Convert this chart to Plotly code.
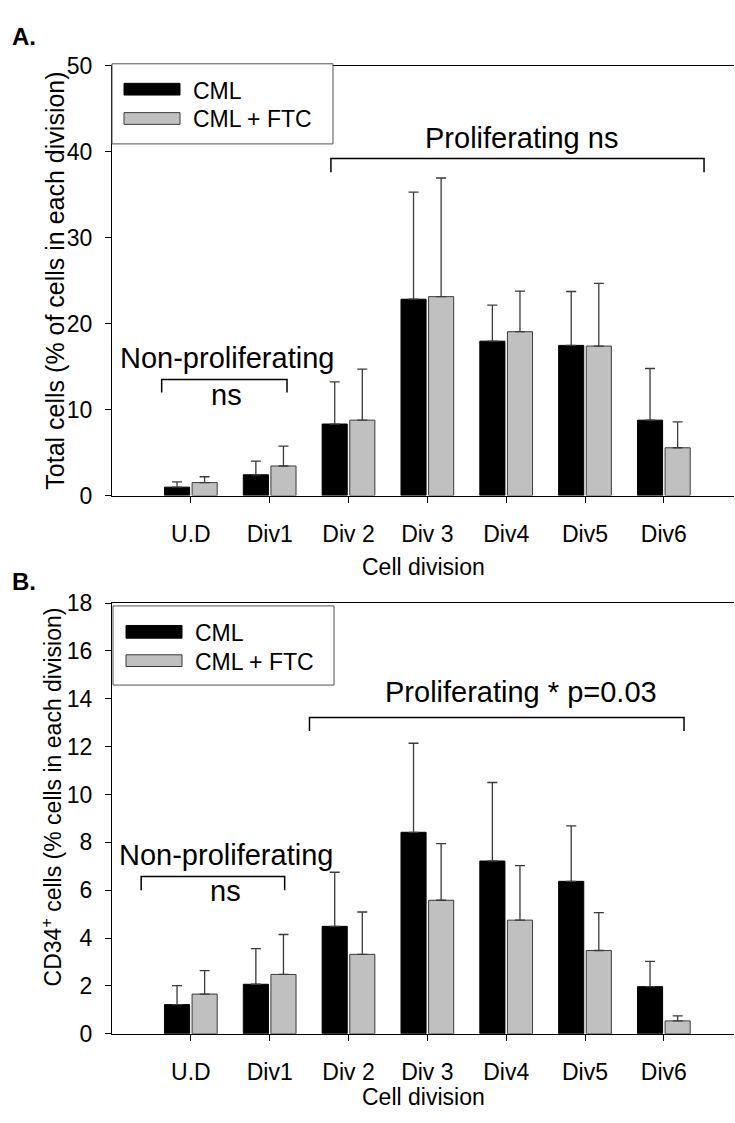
import plotly.graph_objects as go

# ---- data ----
divisions = ["U.D", "Div1", "Div 2", "Div 3", "Div4", "Div5", "Div6"]

# Panel A: total cells (% of cells in each division), mean and SD
total_cml = [0.98, 2.42, 8.32, 22.84, 17.96, 17.47, 8.77]
total_cml_sd = [0.61, 1.58, 4.91, 12.46, 4.20, 6.27, 6.01]
total_ftc = [1.51, 3.44, 8.77, 23.14, 19.06, 17.39, 5.56]
total_ftc_sd = [0.68, 2.31, 5.94, 13.80, 4.72, 7.30, 3.02]

# Panel B: CD34+ cells (% cells in each division), mean and SD
cd34_cml = [1.22, 2.07, 4.49, 8.42, 7.22, 6.37, 1.97]
cd34_cml_sd = [0.79, 1.49, 2.26, 3.72, 3.28, 2.32, 1.06]
cd34_ftc = [1.66, 2.48, 3.32, 5.58, 4.75, 3.48, 0.54]
cd34_ftc_sd = [0.98, 1.67, 1.77, 2.37, 2.28, 1.58, 0.21]

W, H = 735, 1123
FONT = "Liberation Sans, Arial, sans-serif"
BLACK = "#000000"
GREY = "#c0c0c0"
EDGE = "#3a3a3a"


def px(xp):
    return xp / W


def py(yp):
    return 1 - yp / H


fig = go.Figure()


def add_pair(cml, cml_sd, ftc, ftc_sd, xa, ya):
    fig.add_trace(go.Bar(
        x=divisions, y=cml, name="CML", xaxis=xa, yaxis=ya, showlegend=False,
        offsetgroup="cml",
        marker=dict(color=BLACK, line=dict(color=BLACK, width=1)),
        error_y=dict(type="data", symmetric=False, array=cml_sd,
                     arrayminus=[0] * len(cml_sd), color=EDGE,
                     thickness=1.3, width=5),
    ))
    fig.add_trace(go.Bar(
        x=divisions, y=ftc, name="CML + FTC", xaxis=xa, yaxis=ya, showlegend=False,
        offsetgroup="ftc",
        marker=dict(color=GREY, line=dict(color=EDGE, width=1)),
        error_y=dict(type="data", symmetric=False, array=ftc_sd,
                     arrayminus=[0] * len(ftc_sd), color=EDGE,
                     thickness=1.3, width=5),
    ))


add_pair(total_cml, total_cml_sd, total_ftc, total_ftc_sd, "x", "y")
add_pair(cd34_cml, cd34_cml_sd, cd34_ftc, cd34_ftc_sd, "x2", "y2")

xdom = [px(112), px(734)]
xrange = [-1.0, 6.89]

common_x = dict(
    type="category", range=xrange, domain=xdom, showline=True, linecolor=BLACK,
    linewidth=1, mirror=True, ticks="outside", ticklen=6, tickcolor=BLACK,
    showgrid=False, zeroline=False, ticklabelstandoff=12,
    tickfont=dict(family=FONT, size=23, color=BLACK),
)
common_y = dict(
    showline=True, linecolor=BLACK, linewidth=1, ticks="outside", ticklen=6,
    tickcolor=BLACK, showgrid=False, zeroline=False, ticklabelstandoff=8,
    tickfont=dict(family=FONT, size=23, color=BLACK),
)

fig.update_layout(
    width=W, height=H, margin=dict(l=0, r=0, t=0, b=0),
    paper_bgcolor="white", plot_bgcolor="white",
    barmode="group", bargap=0.30, bargroupgap=0.09,
    showlegend=False,
    xaxis=dict(**common_x, anchor="y"),
    yaxis=dict(**common_y, anchor="x", domain=[py(494), py(54)],
               range=[0, 50], dtick=10),
    xaxis2=dict(**common_x, anchor="y2"),
    yaxis2=dict(**common_y, anchor="x2", domain=[py(1045), py(604)],
                range=[0, 18], dtick=2),
)

shapes = []
annotations = []


def text(x, y, s, size, xref="paper", yref="paper", xanchor="center",
         yanchor="middle", angle=0, bold=False):
    annotations.append(dict(
        x=x, y=y, xref=xref, yref=yref, text=("<b>%s</b>" % s) if bold else s,
        showarrow=False, xanchor=xanchor, yanchor=yanchor, textangle=angle,
        font=dict(family=FONT, size=size, color=BLACK),
    ))


def bracket(x0, x1, ytop, ybot, xref, yref):
    shapes.append(dict(
        type="path", xref=xref, yref=yref,
        path="M %f,%f L %f,%f L %f,%f L %f,%f" % (x0, ybot, x0, ytop, x1, ytop, x1, ybot),
        line=dict(color=BLACK, width=1.5),
    ))


def legend_box(x0, y0, x1, y1, sw_x0, sw_x1, rows, text_x):
    shapes.append(dict(type="rect", xref="paper", yref="paper", layer="above",
                       x0=px(x0), x1=px(x1), y0=py(y1), y1=py(y0),
                       fillcolor="white", line=dict(color="#555555", width=1)))
    for (ya, yb, fill, edge, label, ty) in rows:
        shapes.append(dict(type="rect", xref="paper", yref="paper", layer="above",
                           x0=px(sw_x0), x1=px(sw_x1), y0=py(yb), y1=py(ya),
                           fillcolor=fill, line=dict(color=edge, width=1)))
        text(px(text_x), py(ty), label, 23, xanchor="left")


# Panel A annotations
text(px(10), py(24), "A.", 24, xanchor="left", bold=True)
legend_box(112, 52, 333, 134, 124, 180,
           [(72, 84, BLACK, BLACK, "CML", 80),
            (102, 114, GREY, EDGE, "CML + FTC", 109)], 191)
bracket(1.777, 6.51, 39.2, 37.6, "x", "y")
text(4.2, 41.6, "Proliferating ns", 29, xref="x", yref="y")
bracket(-0.37, 1.22, 13.5, 12.0, "x", "y")
text(0.46, 16.0, "Non-proliferating", 29, xref="x", yref="y")
text(0.45, 11.7, "ns", 29, xref="x", yref="y")
text(px(423), py(567), "Cell division", 23)
text(px(55), py(274), "Total cells (% of cells in each division)", 25, angle=-90)

# Panel B annotations
text(px(10), py(582), "B.", 24, xanchor="left", bold=True)
legend_box(113, 607, 334, 688, 126, 182,
           [(627, 640, BLACK, BLACK, "CML", 635),
            (657, 669, GREY, EDGE, "CML + FTC", 664)], 193)
bracket(1.505, 6.256, 13.22, 12.65, "x2", "y2")
text(4.19, 14.3, "Proliferating * p=0.03", 29, xref="x2", yref="y2")
bracket(-0.63, 1.19, 6.57, 6.0, "x2", "y2")
text(0.44, 7.47, "Non-proliferating", 29, xref="x2", yref="y2")
text(0.435, 5.95, "ns", 29, xref="x2", yref="y2")
text(px(423), py(1110), "Cell division", 23)
text(px(52), py(803), "CD34<sup>+</sup> cells (% cells in each division)", 23, angle=-90)

fig.update_layout(shapes=shapes, annotations=annotations)

# keep the page flush with the figure (no default body margin / scrollbars)
page_js = ("document.body.style.margin='0';"
           "document.documentElement.style.overflow='hidden';"
           "document.body.style.overflow='hidden';")
fig.write_html("out.html", post_script=page_js)
